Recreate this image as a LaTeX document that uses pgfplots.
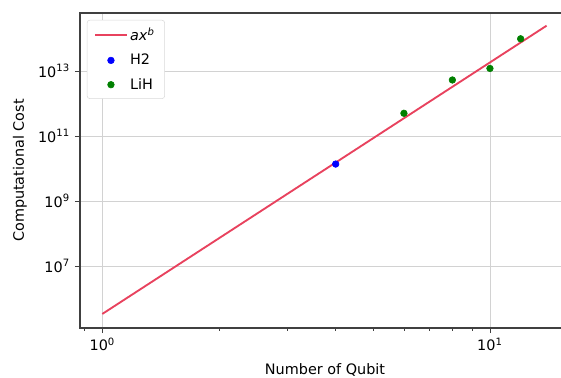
\documentclass[border=0pt]{standalone}
\usepackage{fontspec}
\setmainfont{DejaVu Sans}
\usepackage{pgfplots}
\pgfplotsset{compat=1.18}
\definecolor{fitred}{RGB}{232,66,94}
\definecolor{mplgreen}{RGB}{0,128,0}
\begin{document}
\fontsize{10.8}{13}\selectfont
\begin{tikzpicture}
\begin{axis}[
  at={(0,0)}, anchor=south west,
  scale only axis, width=367.5pt, height=236.25pt,
  xmode=log, ymode=log,
  xmin=0.876, xmax=16.09,
  ymin=1.236e5, ymax=6.1e14,
  axis line style={black!75, line width=1pt},
  xtick={1,10}, xticklabels={10\textsuperscript{0},10\textsuperscript{1}},
  ytick={1e7,1e9,1e11,1e13},
  yticklabels={10\textsuperscript{7},10\textsuperscript{9},10\textsuperscript{11},10\textsuperscript{13}},
  minor xtick={0.9,2,3,4,5,6,7,8,9,20},
  minor ytick={},
  tick align=outside, xtick pos=bottom, ytick pos=left,
  major tick length=3.8pt, minor tick length=2.2pt,
  tick style={black!75, line width=0.6pt},
  grid=major, major grid style={gray!35, line width=0.6pt},
  xlabel={Number of Qubit}, ylabel={Computational Cost},
  xlabel style={yshift=-2pt},
  ylabel style={yshift=1pt},
  legend style={at={(0.014,0.978)}, anchor=north west, draw=gray!30, rounded corners=2pt,
    fill=white, font=\fontsize{10.8}{13}\selectfont, row sep=4.5pt, inner xsep=5.5pt, inner ysep=3.5pt},
  legend cell align=left,
]
\addplot[fitred, line width=1.4pt,
  legend image code/.code={\draw[fitred, line width=1.4pt] (0cm,0cm) -- (0.82cm,0cm);}]
  coordinates {(1,3.34e5) (14,2.48e14)};
\addlegendentry{\textit{ax}\textsuperscript{\textit{b}}}
\addplot[only marks, mark=*, mark size=2.5pt, color=blue,
  legend image code/.code={\draw[blue, fill=blue] (0.41cm,0cm) circle (2.5pt);}]
  coordinates {(4,1.37e10)};
\addlegendentry{H2}
\addplot[only marks, mark=*, mark size=2.5pt, color=mplgreen,
  legend image code/.code={\draw[mplgreen, fill=mplgreen] (0.41cm,0cm) circle (2.5pt);}]
  coordinates {(6,5.0e11) (8,5.3e12) (10,1.2e13) (12,9.8e13)};
\addlegendentry{LiH}
\end{axis}
\pgfresetboundingbox
\useasboundingbox (-60pt,-37.5pt) rectangle (360.75pt,246pt);
\end{tikzpicture}
\end{document}
